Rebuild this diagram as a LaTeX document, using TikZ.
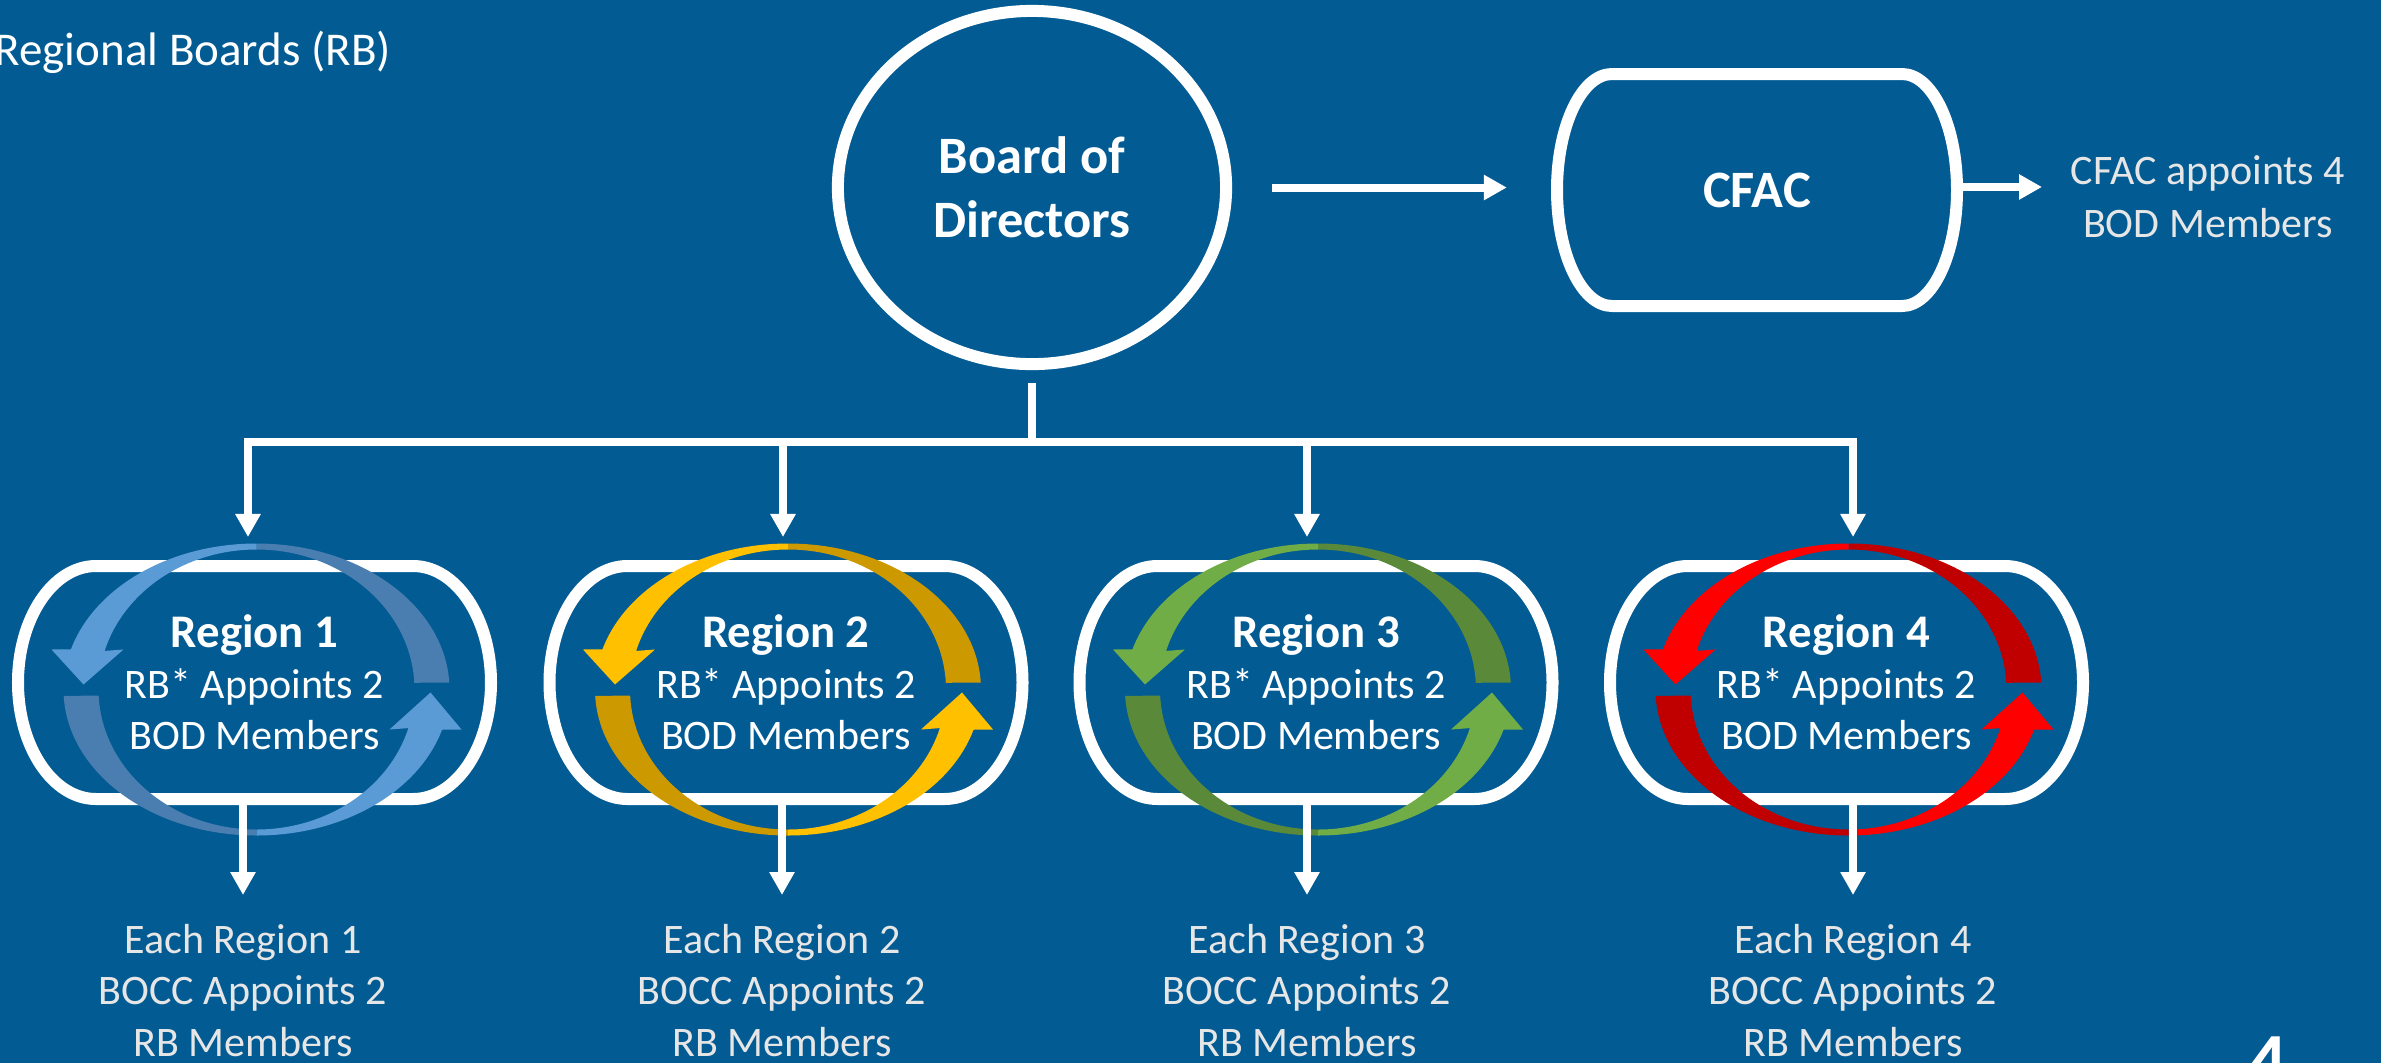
\documentclass[tikz,border=0pt]{standalone}
\usepackage{fontspec}
\setmainfont{Carlito}
\usetikzlibrary{arrows.meta,shapes.geometric,calc,backgrounds}
\definecolor{bg}{RGB}{2,91,147}
\definecolor{soft}{RGB}{231,230,230}
\definecolor{rAlight}{RGB}{91,155,213}
\definecolor{rAdark}{RGB}{74,126,176}
\definecolor{rBlight}{RGB}{255,192,0}
\definecolor{rBdark}{RGB}{204,153,0}
\definecolor{rClight}{RGB}{112,173,71}
\definecolor{rCdark}{RGB}{90,138,57}
\definecolor{rDlight}{RGB}{255,0,0}
\definecolor{rDdark}{RGB}{192,0,0}

% pill outline around a node: node, half width, half height, end x-radius
\newcommand\pillshape[4]{%
  \begin{scope}[shift={(#1.center)}]
    \draw[outline] ({-#2+#4},#3) -- ({#2-#4},#3)
      arc[start angle=90,end angle=-90,x radius=#4,y radius=#3]
      -- ({-#2+#4},-#3)
      arc[start angle=270,end angle=90,x radius=#4,y radius=#3] -- cycle;
  \end{scope}}

% pair of circular arrows: node, light colour, dark colour
\newcommand\cyclearrows[3]{%
  \begin{scope}[shift={($(#1.center)+(2,-7)$)}]
    \fill[#3] (0,146) arc[start angle=90,end angle=2.75,x radius=193,y radius=146]
      -- (2.75:158 and 140) arc[start angle=2.75,end angle=90,x radius=158,y radius=140] -- cycle;
    \fill[#2] (0,146) arc[start angle=90,end angle=164,x radius=193,y radius=146]
      -- (-205,40) -- (-173,5) -- (-133,40)
      -- (164:158 and 140) arc[start angle=164,end angle=90,x radius=158,y radius=140] -- cycle;
    \fill[#3] (0,-146) arc[start angle=270,end angle=182.5,x radius=193,y radius=146]
      -- (182.5:158 and 140) arc[start angle=182.5,end angle=270,x radius=158,y radius=140] -- cycle;
    \fill[#2] (0,-146) arc[start angle=270,end angle=344,x radius=193,y radius=146]
      -- (205,-40) -- (174,-3) -- (133,-40)
      -- (344:158 and 140) arc[start angle=344,end angle=270,x radius=158,y radius=140] -- cycle;
  \end{scope}}

\newcommand\regionhead[1]{{\fontsize{13.3}{14.51}\selectfont\bfseries #1}}

\begin{document}
\begin{tikzpicture}[x=0.01cm,y=0.01cm,
  outline/.style={draw=white, line width=0.12cm},
  link/.style={draw=white, line width=0.08cm},
  conn/.style={link, -{Triangle[length=0.23cm,width=0.24cm]}},
  boardtxt/.style={font=\fontsize{14.94}{18.21}\selectfont\bfseries, text=white, align=center, inner sep=0pt, outer sep=0pt},
  regiontxt/.style={font=\fontsize{11.95}{14.51}\selectfont, text=white, align=center,
     minimum width=4.73cm, minimum height=2.33cm, inner sep=0pt, outer sep=0pt},
  notetxt/.style={font=\fontsize{11.95}{14.51}\selectfont, text=soft, align=center, inner sep=0pt, anchor=base},
]
\useasboundingbox (0,0) rectangle (2381,-1063);
\clip (0,0) rectangle (2381,-1063);
\begin{pgfonlayer}{background}
  \fill[bg] (0,0) rectangle (2381,-1063);
\end{pgfonlayer}

% title and page number
\node[anchor=base west, inner sep=0pt, text=white, font=\fontsize{13.37}{16}\selectfont] (title) at (-6,-65) {Regional Boards (RB)};
\node[anchor=base west, inner sep=0pt, text=white, font=\fontsize{31.3}{36}\selectfont] (pagenum) at (2236,-1107) {4};

% top row
\node[boardtxt, ellipse, draw=white, line width=0.12cm, minimum width=3.88cm, minimum height=3.53cm] (bod) at (1032,-187.5) {Board of\\Directors};
\node[boardtxt, minimum width=4cm, minimum height=2.32cm] (cfac) at (1757,-190) {CFAC};
% anchor=base sits on the last line's baseline
\node[notetxt, font=\fontsize{11.95}{14.8}\selectfont] (cfacnote) at (2208,-237) {CFAC appoints 4\\BOD Members};

% regions
\node[regiontxt] (r1) at (254.5,-682.5) {\regionhead{Region 1}\\RB* Appoints 2\\BOD Members};
\node[regiontxt] (r2) at (786,-682.5) {\regionhead{Region 2}\\RB* Appoints 2\\BOD Members};
\node[regiontxt] (r3) at (1316,-682.5) {\regionhead{Region 3}\\RB* Appoints 2\\BOD Members};
\node[regiontxt] (r4) at (1846.5,-682.5) {\regionhead{Region 4}\\RB* Appoints 2\\BOD Members};

% bottom notes (last baseline)
\node[notetxt] (n1) at (243,-1056) {Each Region 1\\BOCC Appoints 2\\RB Members};
\node[notetxt] (n2) at (782,-1056) {Each Region 2\\BOCC Appoints 2\\RB Members};
\node[notetxt] (n3) at (1307,-1056) {Each Region 3\\BOCC Appoints 2\\RB Members};
\node[notetxt] (n4) at (1853,-1056) {Each Region 4\\BOCC Appoints 2\\RB Members};

% outlines and circular arrows behind the texts
\begin{pgfonlayer}{background}
  \pillshape{cfac}{200}{116}{55}
  \pillshape{r1}{236.5}{116.5}{78}
  \pillshape{r2}{236.5}{116.5}{78}
  \pillshape{r3}{236.5}{116.5}{78}
  \pillshape{r4}{236.5}{116.5}{78}
  \cyclearrows{r1}{rAlight}{rAdark}
  \cyclearrows{r2}{rBlight}{rBdark}
  \cyclearrows{r3}{rClight}{rCdark}
  \cyclearrows{r4}{rDlight}{rDdark}
\end{pgfonlayer}

% connectors
\coordinate (cfactip) at (2042,-187);
\draw[conn, shorten <=0.46cm, shorten >=0.50cm] (bod.east) -- (bod.east -| cfac.west);
\draw[conn] (cfac.east |- cfactip) -- (cfactip);

\coordinate (jn) at (1032,-442);
\coordinate (h1) at (248,-442);
\coordinate (h2) at (783,-442);
\coordinate (h3) at (1307,-442);
\coordinate (h4) at (1853,-442);
\coordinate (t1) at (248,-537);
\coordinate (t2) at (783,-537);
\coordinate (t3) at (1307,-537);
\coordinate (t4) at (1853,-537);
\draw[link, shorten <=0.19cm] (bod.south) -- (jn);
\draw[link, line cap=rect] (h1) -- (h4);
\draw[conn] (h1) -- (t1);
\draw[conn] (h2) -- (t2);
\draw[conn] (h3) -- (t3);
\draw[conn] (h4) -- (t4);

\coordinate (b1) at (243,-895);
\coordinate (b2) at (782,-895);
\coordinate (b3) at (1307,-895);
\coordinate (b4) at (1853,-895);
\draw[conn] (b1 |- r1.south) -- (b1);
\draw[conn] (b2 |- r2.south) -- (b2);
\draw[conn] (b3 |- r3.south) -- (b3);
\draw[conn] (b4 |- r4.south) -- (b4);
\end{tikzpicture}
\end{document}
